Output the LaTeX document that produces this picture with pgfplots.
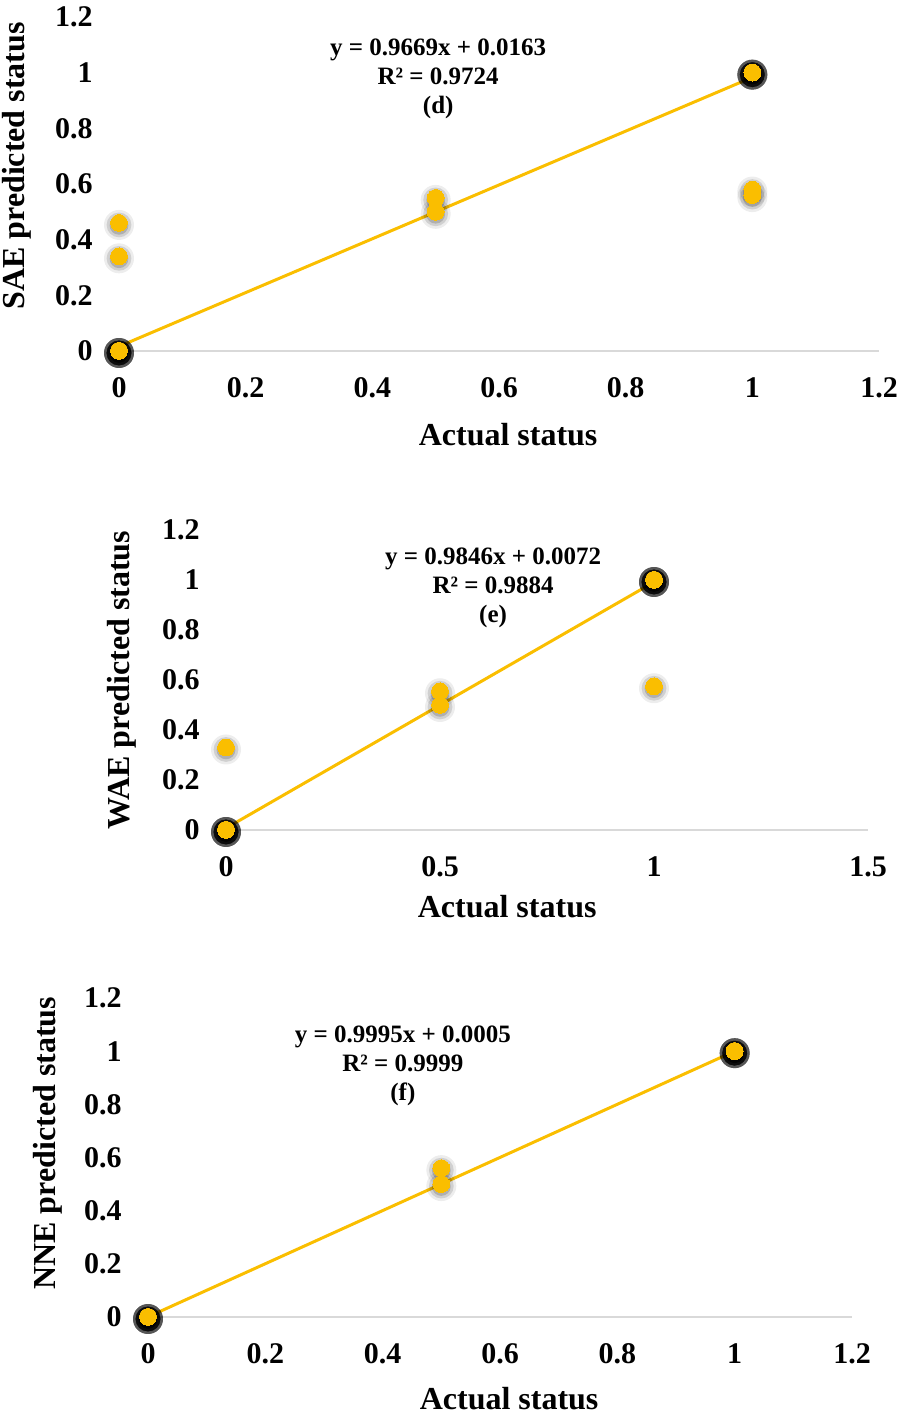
\documentclass[border=0pt]{standalone}
\usepackage{fontspec}
\setmainfont{Liberation Serif}
\usepackage{pgfplots}
\pgfplotsset{compat=1.18}
\usepackage{pgfplotstable}
\definecolor{gold}{RGB}{250,190,0}
\definecolor{basegray}{RGB}{217,217,217}

\pgfplotstableread{
x y
0 0
0 0
0 0
0 0
0 0
0 0
0 0
0 0
0 0
0 0
0 0
0 0
0 0
0 0
0 0
0 0.46
0 0.34
0.5 0.55
0.5 0.50
1 1
1 1
1 1
1 1
1 1
1 1
1 1
1 1
1 1
1 1
1 1
1 1
1 1
1 1
1 1
1 0.58
1 0.56
}\sae
\pgfplotstableread{
x y
0 0
0 0
0 0
0 0
0 0
0 0
0 0
0 0
0 0
0 0
0 0
0 0
0 0
0 0
0 0
0 0.33
0.5 0.555
0.5 0.50
1 1
1 1
1 1
1 1
1 1
1 1
1 1
1 1
1 1
1 1
1 1
1 1
1 1
1 1
1 1
1 0.575
}\wae
\pgfplotstableread{
x y
0 0
0 0
0 0
0 0
0 0
0 0
0 0
0 0
0 0
0 0
0 0
0 0
0 0
0 0
0 0
0.5 0.56
0.5 0.50
1 1
1 1
1 1
1 1
1 1
1 1
1 1
1 1
1 1
1 1
1 1
1 1
1 1
1 1
1 1
}\nne

\tikzset{eqn/.style={align=center, font=\fontsize{12.5}{14.5}\selectfont\bfseries}}
\pgfplotsset{
  panel/.style={
    scale only axis,
    anchor=south west,
    clip=false,
    ymin=0, ymax=1.2,
    ytick={0,0.2,0.4,0.6,0.8,1,1.2},
    axis x line*=bottom,
    axis y line*=left,
    y axis line style={draw=none},
    x axis line style={draw=basegray, line width=1.2pt},
    tick style={draw=none},
    /pgf/number format/assume math mode=true,
    ticklabel style={font=\fontsize{15}{18}\selectfont\bfseries, inner sep=0pt},
    yticklabel style={anchor=east, xshift=-13pt},
    xticklabel style={anchor=center, yshift=-18.5pt},
    label style={font=\fontsize{16}{19}\selectfont\bfseries},
  },
  shadowA/.style={only marks, color=black, mark=*, mark size=7.5pt, mark options={draw opacity=0, fill=black, fill opacity=0.07, yshift=-1pt}},
  shadowB/.style={only marks, color=black, mark=*, mark size=6.2pt, mark options={draw opacity=0, fill=black, fill opacity=0.12, yshift=-1pt}},
  shadowC/.style={only marks, color=black, mark=*, mark size=4.7pt, mark options={draw opacity=0, fill=black, fill opacity=0.16, yshift=-1.2pt}},
  dots/.style={only marks, color=gold, mark=*, mark size=4.2pt, mark options={draw=gold, fill=gold, line width=0pt}},
  trend/.style={no marks, draw=gold, line width=1.5pt},
}

\begin{document}
\begin{tikzpicture}
\useasboundingbox (0,0) rectangle (451.5pt,708pt);

% (d) SAE
\begin{axis}[panel,
  at={(59.5pt,532.5pt)}, width=380pt, height=167pt,
  xmin=0, xmax=1.2, xtick={0,0.2,0.4,0.6,0.8,1,1.2},
  xlabel={Actual status}, ylabel={SAE predicted status},
  xlabel style={at={(axis description cs:0.512,0)}, anchor=center, yshift=-42pt},
  ylabel style={at={(axis description cs:-0.134,0.554)}, anchor=center},
]
\addplot[shadowA] table {\sae};
\addplot[shadowB] table {\sae};
\addplot[shadowC] table {\sae};
\addplot[trend] coordinates {(0,0.0163) (1,0.9832)};
\addplot[dots] table {\sae};
\node[eqn] at (axis description cs:0.42,0.814) {y = 0.9669x + 0.0163\\R² = 0.9724\\(d)};
\end{axis}

% (e) WAE
\begin{axis}[panel,
  at={(113pt,293pt)}, width=321pt, height=150pt,
  xmin=0, xmax=1.5, xtick={0,0.5,1,1.5},
  xlabel={Actual status}, ylabel={WAE predicted status},
  xlabel style={at={(axis description cs:0.438,0)}, anchor=center, yshift=-38.5pt},
  ylabel style={at={(axis description cs:-0.162,0.5)}, anchor=center},
]
\addplot[shadowA] table {\wae};
\addplot[shadowB] table {\wae};
\addplot[shadowC] table {\wae};
\addplot[trend] coordinates {(0,0.0072) (1,0.9918)};
\addplot[dots] table {\wae};
\node[eqn] at (axis description cs:0.416,0.807) {y = 0.9846x + 0.0072\\R² = 0.9884\\(e)};
\end{axis}

% (f) NNE
\begin{axis}[panel,
  at={(74pt,49.5pt)}, width=352pt, height=159.5pt,
  xmin=0, xmax=1.2, xtick={0,0.2,0.4,0.6,0.8,1,1.2},
  xlabel={Actual status}, ylabel={NNE predicted status},
  xlabel style={at={(axis description cs:0.513,0)}, anchor=center, yshift=-41pt},
  ylabel style={at={(axis description cs:-0.142,0.545)}, anchor=center},
]
\addplot[shadowA] table {\nne};
\addplot[shadowB] table {\nne};
\addplot[shadowC] table {\nne};
\addplot[trend] coordinates {(0,0.0005) (1,1.0)};
\addplot[dots] table {\nne};
\node[eqn] at (axis description cs:0.362,0.787) {y = 0.9995x + 0.0005\\R² = 0.9999\\(f)};
\end{axis}
\end{tikzpicture}
\end{document}
